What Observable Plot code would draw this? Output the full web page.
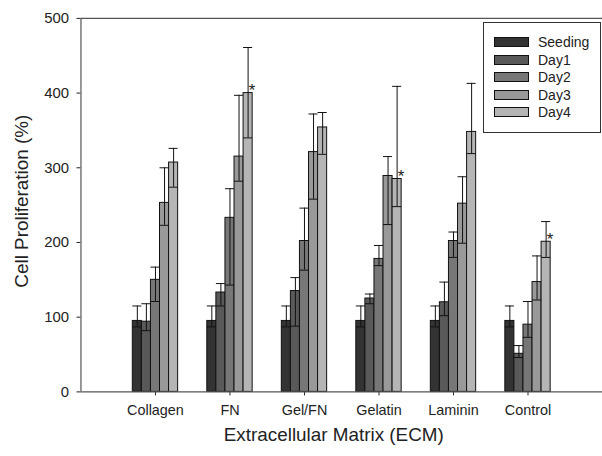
<!DOCTYPE html>
<html><head><meta charset="utf-8">
<script src="https://cdn.jsdelivr.net/npm/d3@7"></script>
<script src="https://cdn.jsdelivr.net/npm/@observablehq/plot@0.6"></script>
<style>
html,body{margin:0;padding:0;background:#fff;overflow:hidden;}
#wrap{position:relative;width:602px;height:456px;overflow:hidden;font-family:Arial,"Liberation Sans",sans-serif;}
#wrap svg{display:block;}
#wrap svg g[aria-label^="y-axis"] text{font-size:15px;}
#legend{position:absolute;left:483px;top:22px;width:118px;height:111px;border:1px solid #333;background:#fff;box-sizing:border-box;}
.item{position:absolute;left:10px;height:18px;display:flex;align-items:center;font-size:14px;color:#222;white-space:nowrap;}
.sw{width:35px;height:10px;border:1px solid #111;box-sizing:border-box;margin-right:9px;}
</style></head>
<body><div id="wrap"><div id="legend"></div></div>
<script>
const categories = ["Collagen", "FN", "Gel/FN", "Gelatin", "Laminin", "Control"];
const series = ["Seeding", "Day1", "Day2", "Day3", "Day4"];
const colors = ["#333333", "#595959", "#777777", "#999999", "#b5b5b5"];

// mean values (%) per series, in category order
const seedingMean = [95, 95, 95, 95, 95, 95];
const day1Mean = [94, 133, 135, 125, 120, 51];
const day2Mean = [150, 233, 202, 178, 202, 90];
const day3Mean = [253, 315, 321, 289, 252, 147];
const day4Mean = [307, 400, 354, 285, 348, 201];

// upper error-bar ends
const seedingUpper = [115, 115, 115, 115, 115, 115];
const day1Upper = [118, 145, 153, 131, 147, 62];
const day2Upper = [167, 272, 246, 196, 214, 121];
const day3Upper = [300, 397, 372, 315, 288, 182];
const day4Upper = [326, 461, 374, 409, 413, 228];

// lower error-bar ends
const seedingLower = [87, 87, 87, 87, 87, 87];
const day1Lower = [82, 115, 88, 118, 102, 46];
const day2Lower = [121, 143, 163, 169, 180, 73];
const day3Lower = [223, 282, 258, 224, 199, 123];
const day4Lower = [274, 340, 318, 248, 319, 180];

// significance markers (on Day4 bars)
const starCategories = ["FN", "Gelatin", "Control"];

const yTicks = [0, 100, 200, 300, 400, 500];

const means = [seedingMean, day1Mean, day2Mean, day3Mean, day4Mean];
const uppers = [seedingUpper, day1Upper, day2Upper, day3Upper, day4Upper];
const lowers = [seedingLower, day1Lower, day2Lower, day3Lower, day4Lower];

const bw = 0.1217; // bar width in category units
const data = [];
series.forEach((s, si) => {
  categories.forEach((c, ci) => {
    data.push({category: c, series: s, ci, si, value: means[si][ci], upper: uppers[si][ci], lower: lowers[si][ci]});
  });
});
const pos = d => d.ci + (d.si - (series.length - 1) / 2) * bw;
const stars = data.filter(d => d.series === "Day4" && starCategories.includes(d.category));

const chart = Plot.plot({
  width: 606,
  height: 456,
  marginLeft: 81,
  marginRight: 0,
  marginTop: 18,
  marginBottom: 62,
  style: {fontFamily: "Arial, 'Liberation Sans', sans-serif", fontSize: "14.5px", color: "#222", background: "white", overflow: "visible"},
  x: {domain: [-1, categories.length], ticks: d3.range(categories.length), tickFormat: i => categories[i], tickSize: 4, tickPadding: 9, label: null},
  y: {domain: [0, 500], ticks: yTicks, tickSize: 4, tickPadding: 8, label: null},
  color: {domain: series, range: colors},
  marks: [
    Plot.rectY(data, {x1: d => pos(d) - bw / 2, x2: d => pos(d) + bw / 2, y1: 0, y2: "value", fill: "series", stroke: "#111", strokeWidth: 1}),
    Plot.ruleX(data, {x: pos, y1: "lower", y2: "upper", stroke: "#111", strokeWidth: 1}),
    Plot.ruleY(data, {y: "upper", x1: d => pos(d) - bw / 2, x2: d => pos(d) + bw / 2, stroke: "#111", strokeWidth: 1}),
    Plot.ruleY(data, {y: "lower", x1: d => pos(d) - bw / 2, x2: d => pos(d) + bw / 2, stroke: "#111", strokeWidth: 1}),
    Plot.text(stars, {x: pos, y: "value", text: () => "*", dx: 4, dy: -2, fontSize: 17, fill: "#222"}),
    Plot.ruleY([0, 500], {stroke: "#555", strokeWidth: 1.2}),
    Plot.ruleX([-1], {stroke: "#555", strokeWidth: 1.2}),
    Plot.text(["Cell Proliferation (%)"], {frameAnchor: "left", textAnchor: "middle", rotate: -90, dx: -59, dy: -4, fontSize: 19, fill: "#222"}),
    Plot.text(["Extracellular Matrix (ECM)"], {frameAnchor: "bottom", textAnchor: "middle", dx: -8, dy: 49, fontSize: 19, fill: "#222"})
  ]
});
document.getElementById("wrap").prepend(chart);

const legend = document.getElementById("legend");
series.forEach((s, i) => {
  const item = document.createElement("div");
  item.className = "item";
  item.style.top = (10 + i * 17.5) + "px";
  const sw = document.createElement("div");
  sw.className = "sw";
  sw.style.background = colors[i];
  item.appendChild(sw);
  item.appendChild(document.createTextNode(s));
  legend.appendChild(item);
});
</script>
</body></html>
